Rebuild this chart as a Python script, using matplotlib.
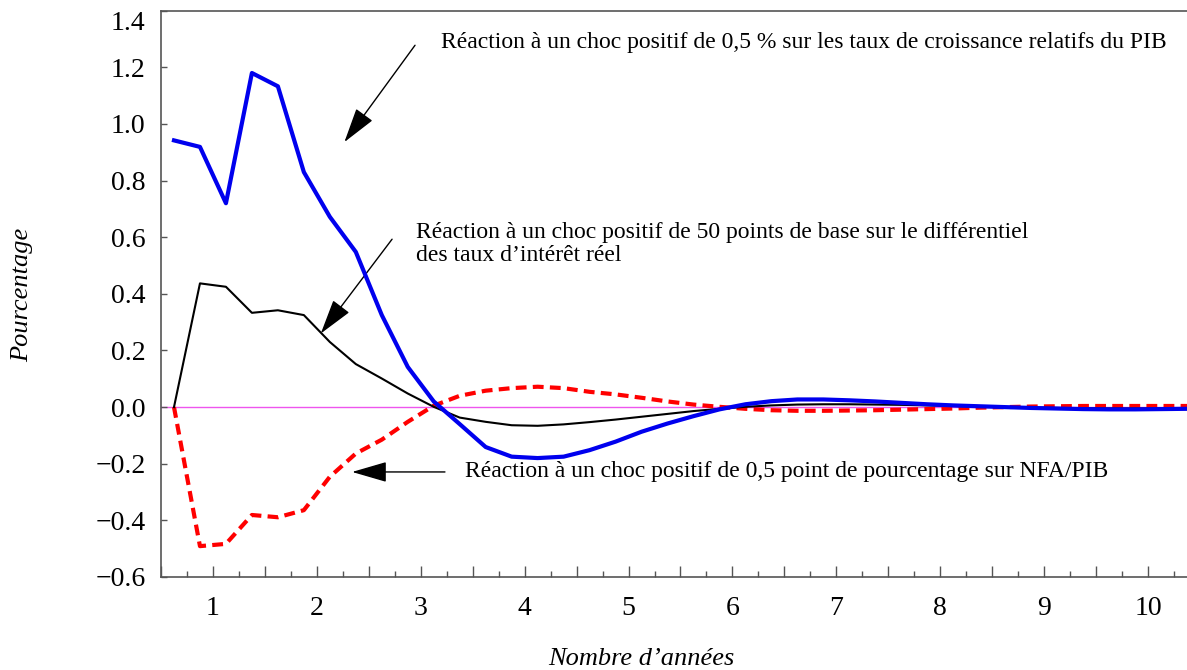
import matplotlib
matplotlib.use("Agg")
import matplotlib.pyplot as plt
from matplotlib.ticker import MultipleLocator, FuncFormatter
import numpy as np

plt.rcParams["font.family"] = ["Liberation Serif", "DejaVu Serif"]

# quarterly horizon, in years
annees = [0.625 + 0.25 * i for i in range(40)]

# reaction to a +0.5% shock on relative GDP growth
choc_pib = [0.942, 0.919, 0.720, 1.180, 1.133, 0.830, 0.672, 0.548, 0.325, 0.142,
            0.020, -0.060, -0.141, -0.175, -0.180, -0.175, -0.152, -0.122, -0.087, -0.058,
            -0.032, -0.008, 0.010, 0.021, 0.027, 0.027, 0.024, 0.020, 0.015, 0.010,
            0.006, 0.003, 0.000, -0.003, -0.005, -0.007, -0.008, -0.008, -0.007, -0.006]

# reaction to a +50bp shock on real interest differential
choc_taux = [0.000, 0.437, 0.425, 0.333, 0.342, 0.325, 0.230, 0.152, 0.101, 0.048,
             0.001, -0.037, -0.052, -0.064, -0.066, -0.061, -0.053, -0.044, -0.034, -0.024,
             -0.014, -0.006, 0.001, 0.006, 0.009, 0.010, 0.010, 0.009, 0.008, 0.006,
             0.004, 0.002, 0.000, -0.002, -0.003, -0.004, -0.005, -0.005, -0.005, -0.004]

# reaction to a +0.5 pp shock on NFA/GDP
choc_nfa = [0.000, -0.491, -0.483, -0.381, -0.389, -0.364, -0.246, -0.164, -0.115, -0.052,
            0.005, 0.040, 0.058, 0.067, 0.072, 0.067, 0.054, 0.045, 0.033, 0.020,
            0.009, 0.001, -0.006, -0.011, -0.013, -0.013, -0.012, -0.011, -0.009, -0.007,
            -0.005, -0.002, 0.000, 0.002, 0.003, 0.004, 0.004, 0.004, 0.004, 0.004]

fig = plt.figure(figsize=(11.87, 6.70), dpi=100)
ax = fig.add_axes([161 / 1187, 1 - 577 / 670, 1 - 161 / 1187, (577 - 10.7) / 670])

ax.axhline(0, color="#ee55ee", lw=1, zorder=1)
ax.plot(annees, choc_taux, color="black", lw=1.5, zorder=3)
ax.plot(annees, choc_nfa, color="#ff0000", lw=3, dashes=(2.6, 1.5), zorder=2)
ax.plot(annees, choc_pib, color="#0000ee", lw=3, zorder=4)

ax.set_xlim(0.5, 10.375)
ax.set_ylim(-0.6, 1.4)

ax.xaxis.set_major_locator(MultipleLocator(0.5))
ax.xaxis.set_minor_locator(MultipleLocator(0.25))
ax.xaxis.set_major_formatter(FuncFormatter(lambda v, p: "%d" % v if abs(v - round(v)) < 1e-6 else ""))
ax.set_yticks(np.arange(-0.6, 1.41, 0.2))
ax.yaxis.set_major_formatter(FuncFormatter(lambda v, p: ("%.1f" % v).replace("-", "\u2212")))

ax.tick_params(axis="x", which="major", direction="in", length=8, width=1, color="#555555",
               labelsize=20, pad=14)
ax.tick_params(axis="x", which="minor", direction="in", length=4, width=1, color="#555555")
ax.tick_params(axis="y", direction="in", length=4, width=1, color="#555555", labelsize=20, pad=11)

for s in ["left", "bottom", "top"]:
    ax.spines[s].set_color("#555555")
    ax.spines[s].set_linewidth(1.2)
ax.spines["right"].set_visible(False)

fig.text(22 / 1187, 1 - 295 / 670, "Pourcentage", fontsize=19, style="italic",
         rotation=90, ha="center", va="center")
fig.text(641 / 1187, 1 - 659 / 670, "Nombre d\u2019ann\u00e9es", fontsize=19, style="italic",
         ha="center", va="center")

fleche = dict(arrowstyle="-|>,head_length=1.1,head_width=0.32", color="black", lw=1,
              mutation_scale=20, shrinkA=0, shrinkB=0)

ax.annotate("", xy=(2.265, 0.936), xytext=(2.945, 1.278), arrowprops=fleche)
ax.text(3.195, 1.288, "R\u00e9action \u00e0 un choc positif de 0,5 % sur les taux de croissance relatifs du PIB",
        fontsize=17, va="center", ha="left")

ax.annotate("", xy=(2.038, 0.260), xytext=(2.724, 0.593), arrowprops=fleche)
ax.text(2.955, 0.577, "R\u00e9action \u00e0 un choc positif de 50 points de base sur le diff\u00e9rentiel\n"
        "des taux d\u2019int\u00e9r\u00eat r\u00e9el", fontsize=17, va="center", ha="left", linespacing=1.15)

ax.annotate("", xy=(2.339, -0.229), xytext=(3.233, -0.229), arrowprops=fleche)
ax.text(3.426, -0.229, "R\u00e9action \u00e0 un choc positif de 0,5 point de pourcentage sur NFA/PIB",
        fontsize=17, va="center", ha="left")

fig.canvas.draw()
ax.get_yticklabels()[-1].set_verticalalignment("top")

fig.savefig("out.png", dpi=100)
